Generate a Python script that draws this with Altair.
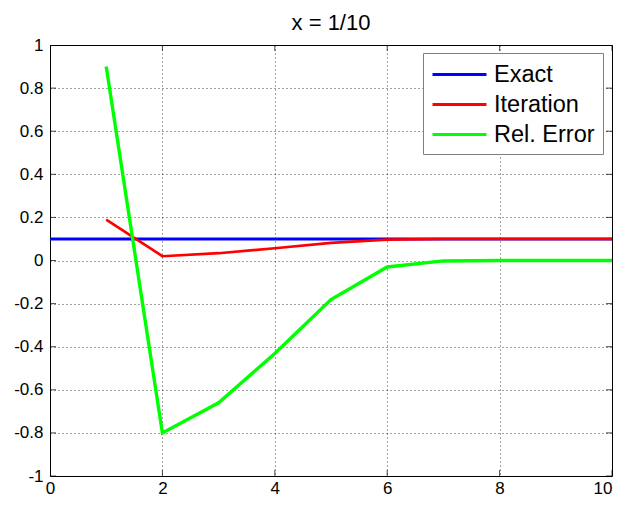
import altair as alt
import pandas as pd

# ---- data ----
series_names = ["Exact", "Iteration", "Rel. Error"]
series_colors = ["#0000ff", "#ff0000", "#00ff00"]

exact_x = [0, 1, 2, 3, 4, 5, 6, 7, 8, 9, 10]
exact_y = [0.1, 0.1, 0.1, 0.1, 0.1, 0.1, 0.1, 0.1, 0.1, 0.1, 0.1]

steps = [1, 2, 3, 4, 5, 6, 7, 8, 9, 10]
iteration = [0.19, 0.02, 0.034, 0.0568, 0.0819, 0.097, 0.0998, 0.1, 0.1, 0.1]
rel_error = [0.9, -0.8, -0.66, -0.432, -0.181, -0.03, -0.002, 0.0, 0.0, 0.0]

x_ticks = [0, 2, 4, 6, 8, 10]
y_ticks = [-1, -0.8, -0.6, -0.4, -0.2, 0, 0.2, 0.4, 0.6, 0.8, 1]

FONT = "Liberation Sans"

exact_df = pd.DataFrame({"x": exact_x, "y": exact_y, "series": series_names[0]})
iter_df = pd.DataFrame({"x": steps, "y": iteration, "series": series_names[1]})
err_df = pd.DataFrame({"x": steps, "y": rel_error, "series": series_names[2]})
xt_df = pd.DataFrame({"x": x_ticks})
yt_df = pd.DataFrame({"y": y_ticks})

xscale = alt.Scale(domain=[0, 10], nice=False, zero=False)
yscale = alt.Scale(domain=[-1, 1], nice=False, zero=False)

xaxis = alt.Axis(
    values=x_ticks, title=None, labelPadding=4, labelFlush=False,
    labelAlign={"condition": {"test": "datum.value >= 10", "value": "right"},
                "value": "center"},
)
yaxis = alt.Axis(values=y_ticks, title=None, labelPadding=7,
                 labelExpr="'' + round(datum.value * 10) / 10")

color = alt.Color(
    "series:N",
    scale=alt.Scale(domain=series_names, range=series_colors),
    legend=alt.Legend(
        title=None, orient="none", legendX=373, legendY=8,
        fillColor="white", strokeColor="#7f7f7f", padding=8,
        labelFont=FONT, labelFontSize=23.5, labelColor="black",
        labelOffset=36, rowPadding=5,
        symbolType="M-1,0H3.5", symbolSize=576, symbolStrokeWidth=3,
    ),
)

def line_layer(df, width):
    return alt.Chart(df).mark_line(strokeWidth=width, clip=True).encode(
        x=alt.X("x:Q", scale=xscale, axis=xaxis),
        y=alt.Y("y:Q", scale=yscale, axis=yaxis),
        color=color,
    )

def xtick_layer(yval):
    return alt.Chart(xt_df).mark_tick(orient="vertical", size=12, thickness=1,
                                      color="black", clip=True).encode(
        x=alt.X("x:Q", scale=xscale, axis=xaxis),
        y=alt.YDatum(yval, type="quantitative", scale=yscale, axis=yaxis),
    )

def ytick_layer(xval):
    return alt.Chart(yt_df).mark_tick(orient="horizontal", size=12, thickness=1,
                                      color="black", clip=True).encode(
        y=alt.Y("y:Q", scale=yscale, axis=yaxis),
        x=alt.XDatum(xval, type="quantitative", scale=xscale, axis=xaxis),
    )

chart = alt.layer(
    xtick_layer(-1), xtick_layer(1), ytick_layer(0), ytick_layer(10),
    line_layer(exact_df, 3),
    line_layer(iter_df, 2.6),
    line_layer(err_df, 3.4),
).properties(
    width=562, height=431,
    background="white",
    title=alt.Title("x = 1/10", fontSize=22, font=FONT, fontWeight="normal",
                    color="black", anchor="middle", frame="group",
                    baseline="alphabetic", offset=-16),
    autosize=alt.AutoSizeParams(type="none"),
    padding={"left": 42, "top": 37, "right": 1, "bottom": 20},
).configure_view(
    stroke="black", strokeWidth=1, fill="white"
).configure_axis(
    domain=False, ticks=False, grid=True, gridDash=[1, 3], gridColor="#000000",
    gridOpacity=0.75, gridWidth=1,
    labelFont=FONT, labelFontSize=17, labelColor="black",
)

chart.save("out.html", embed_options={"renderer": "svg", "actions": False})
